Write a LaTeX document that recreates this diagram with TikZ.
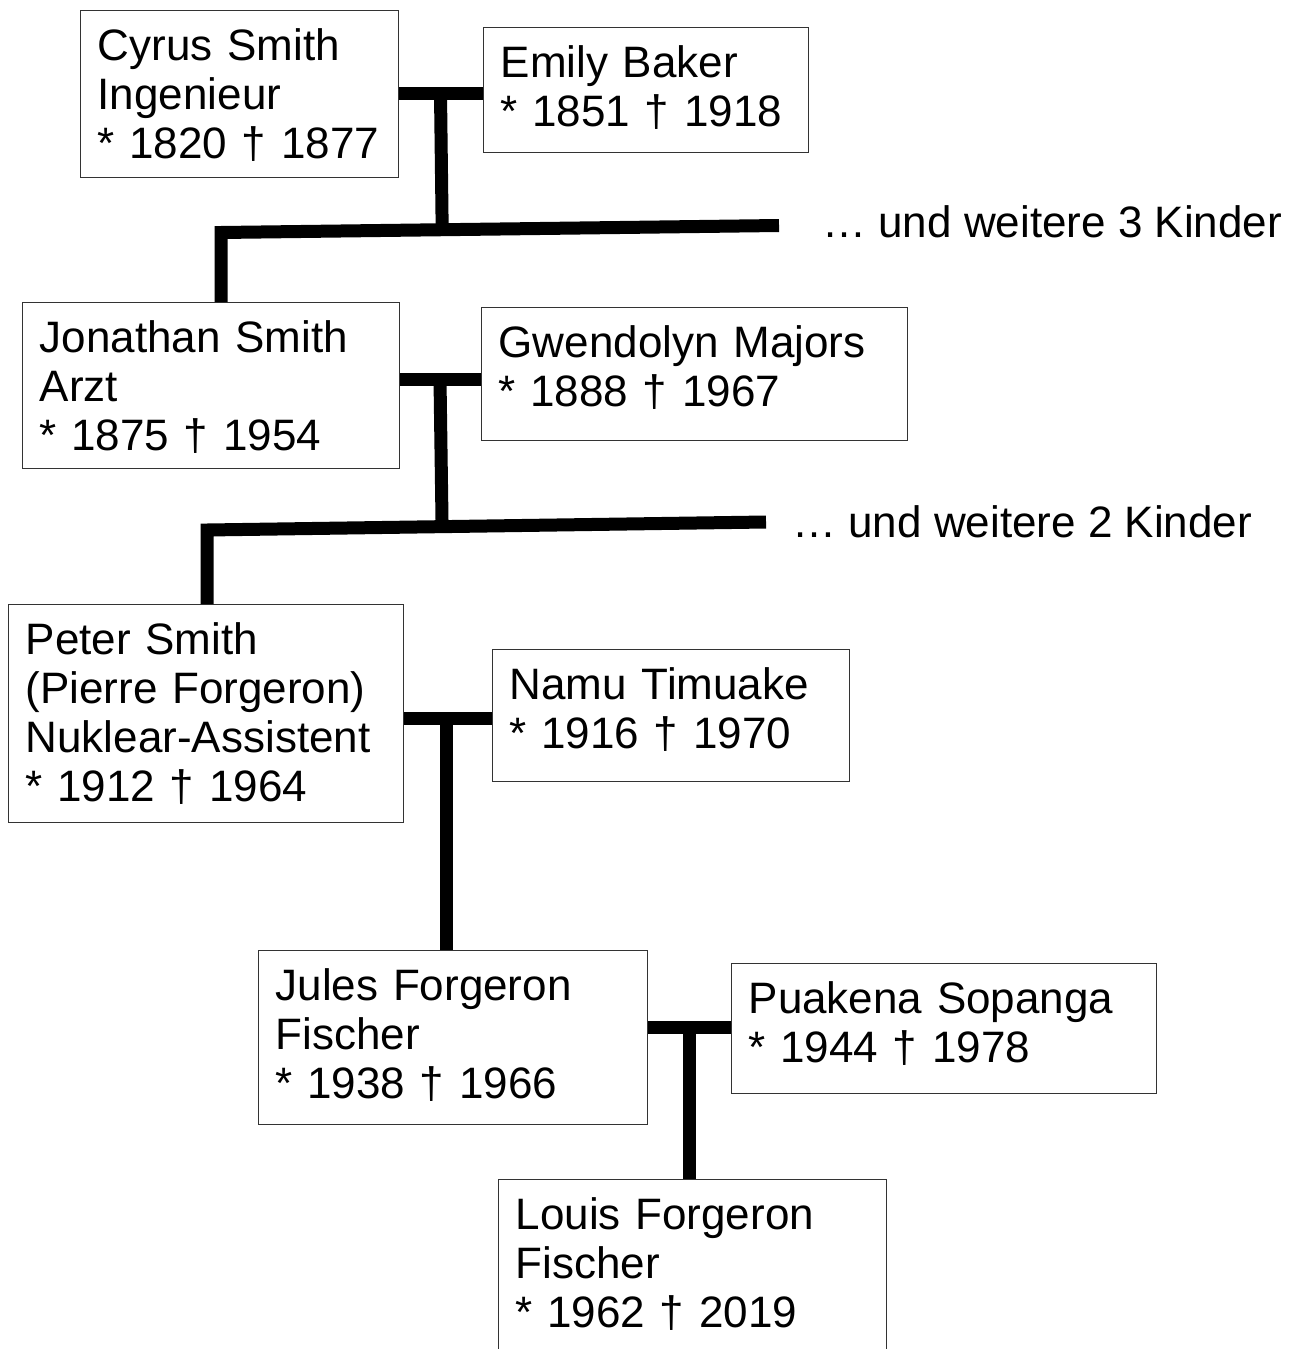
\documentclass[tikz,border=0pt]{standalone}
\usepackage{fontspec}
\setmainfont{Liberation Sans}
\usepackage{tikz}
\usetikzlibrary{calc}
\tikzstyle{person}=[draw=black!80,line width=1.4pt,anchor=north west,align=left,inner xsep=17pt,inner ysep=0pt,text height=50pt,font=\fontsize{44}{49}\selectfont]
\tikzstyle{more}=[anchor=west,inner sep=0pt,font=\fontsize{44}{49}\selectfont]
\tikzstyle{bond}=[line width=13pt,line join=miter]

\begin{document}
\begin{tikzpicture}[x=1pt,y=-1pt]
\useasboundingbox (0,0) rectangle (1297,1349);
\fill[white] (0,0) rectangle (1297,1349);
\clip (0,0) rectangle (1297,1349);

%generation 1
\node[person,minimum width=318pt,text depth=117pt,text width=284pt] (cyrus) at (80,10) {Cyrus Smith\\Ingenieur\\{}* 1820 † 1877};
\node[person,minimum width=325pt,text depth=75pt,text width=291pt] (emily) at (483,27) {Emily Baker\\{}* 1851 † 1918};

%generation 2
\node[person,minimum width=377pt,text depth=116pt,text width=343pt] (jonathan) at (22,302) {Jonathan Smith\\Arzt\\{}* 1875 † 1954};
\node[person,minimum width=426pt,text depth=83pt,text width=392pt] (gwendolyn) at (481,307) {Gwendolyn Majors\\{}* 1888 † 1967};

%generation 3
\node[person,minimum width=395pt,text depth=168pt,text width=361pt] (peter) at (8,604) {Peter Smith\\(Pierre Forgeron)\\Nuklear-Assistent\\{}* 1912 † 1964};
\node[person,minimum width=357pt,text depth=82pt,text width=323pt] (namu) at (492,649) {Namu Timuake\\{}* 1916 † 1970};

%generation 4
\node[person,minimum width=389pt,text depth=124pt,text width=355pt] (jules) at (258,950) {Jules Forgeron\\Fischer\\{}* 1938 † 1966};
\node[person,minimum width=425pt,text depth=80pt,text width=391pt] (puakena) at (731,963) {Puakena Sopanga\\{}* 1944 † 1978};

%generation 5
\node[person,minimum width=388pt,text depth=124pt,text width=354pt] (louis) at (498,1179) {Louis Forgeron\\Fischer\\{}* 1962 † 2019};

%junctions
\coordinate (j1) at (440.5,93.5);
\coordinate (t1) at (221,232.5);
\coordinate (e1) at (779,225.5);
\coordinate (j2) at (440,379);
\coordinate (t2) at (207,530);
\coordinate (e2) at (766,522);
\coordinate (j3) at (446,718);
\coordinate (j4) at (689,1027);

%cyrus + emily
\draw[bond] (cyrus.east |- j1) -- (emily.west |- j1);
\draw[bond] (j1) -- ($(t1)!(j1)!(e1)$);
\draw[bond] (e1) -- (t1) -- (t1 |- jonathan.north);
\node[more] (rest1) at (822,222) {… und weitere 3 Kinder};

%jonathan + gwendolyn
\draw[bond] (jonathan.east |- j2) -- (gwendolyn.west |- j2);
\draw[bond] (j2) -- ($(t2)!(j2)!(e2)$);
\draw[bond] (e2) -- (t2) -- (t2 |- peter.north);
\node[more] (rest2) at (792,522) {… und weitere 2 Kinder};

%peter + namu
\draw[bond] (peter.east |- j3) -- (namu.west |- j3);
\draw[bond] (j3) -- (j3 |- jules.north);

%jules + puakena
\draw[bond] (jules.east |- j4) -- (puakena.west |- j4);
\draw[bond] (j4) -- (j4 |- louis.north);

\end{tikzpicture}
\end{document}
